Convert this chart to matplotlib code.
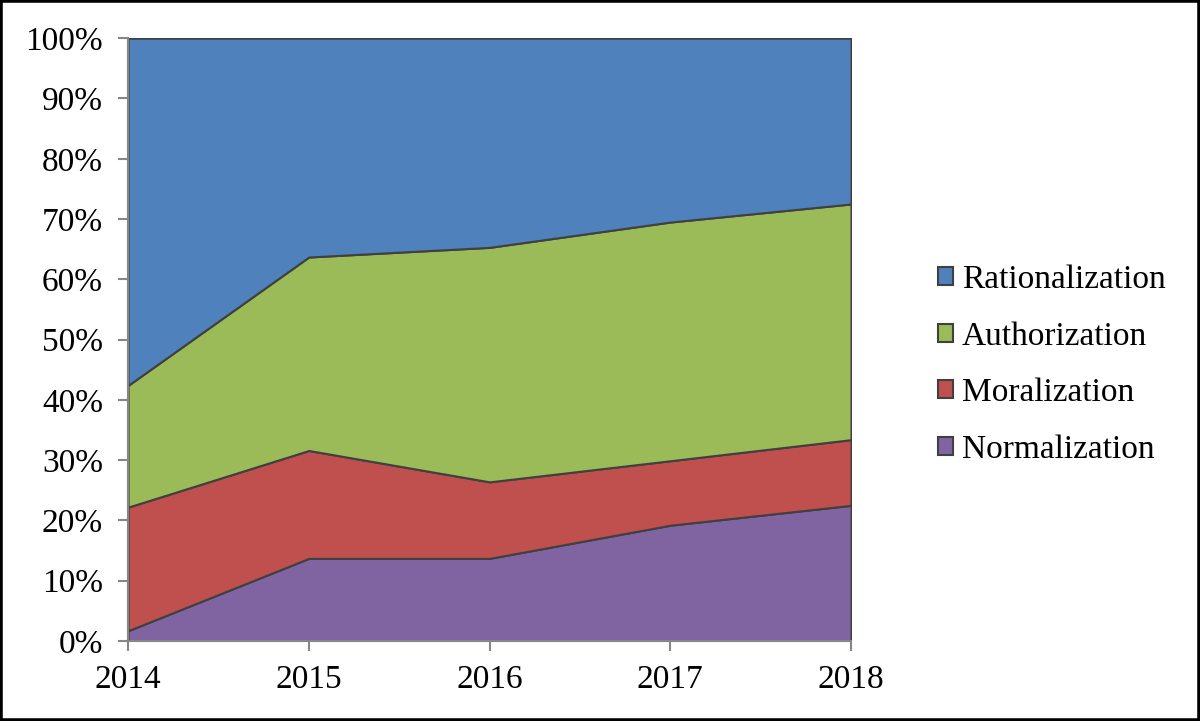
import matplotlib.pyplot as plt
import matplotlib.patches as mpatches
import numpy as np

years = [2014, 2015, 2016, 2017, 2018]
labels = ['Normalization', 'Moralization', 'Authorization', 'Rationalization']
normalization = [1.7, 13.7, 13.7, 19.2, 22.5]
moralization = [20.5, 17.9, 12.7, 10.7, 10.9]
authorization = [20.2, 32.1, 38.9, 39.6, 39.1]
rationalization = [57.6, 36.3, 34.7, 30.5, 27.5]
colors = ['#8064A2', '#C0504D', '#9BBB59', '#4F81BD']

plt.rcParams['font.family'] = ['Liberation Serif', 'DejaVu Serif']

fig = plt.figure(figsize=(12, 7.21), dpi=100)
ax = fig.add_axes([0.1067, 0.111, 0.6025, 0.836])

stacks = ax.stackplot(years, normalization, moralization, authorization, rationalization,
                      colors=colors, edgecolor='#404040', linewidth=1.5)

ax.set_xlim(2014, 2018)
ax.set_ylim(0, 100)
ax.set_xticks(years)
ax.set_yticks(np.arange(0, 101, 10))
ax.set_yticklabels(['{}%'.format(v) for v in range(0, 101, 10)])
ax.tick_params(labelsize=24, colors='#868686', length=7, width=1.5, labelcolor='black')
ax.tick_params(axis='y', pad=11)
ax.tick_params(axis='x', pad=10)
for s in ['top', 'right']:
    ax.spines[s].set_visible(False)
for s in ['left', 'bottom']:
    ax.spines[s].set_color('#868686')
    ax.spines[s].set_linewidth(1.5)

handles = [mpatches.Patch(facecolor=c, edgecolor='#404040', linewidth=1.5) for c in colors][::-1]
fig.legend(handles, labels[::-1], loc='center left', bbox_to_anchor=(0.757, 0.494),
           frameon=False, fontsize=24, handlelength=0.45, handleheight=0.45,
           handletextpad=0.25, labelspacing=0.78)

# outer frame around the picture
fig.patches.append(mpatches.Rectangle((0, 0), 1, 1, transform=fig.transFigure,
                                      fill=False, edgecolor='black', linewidth=4))

fig.savefig('out.png', dpi=100)
